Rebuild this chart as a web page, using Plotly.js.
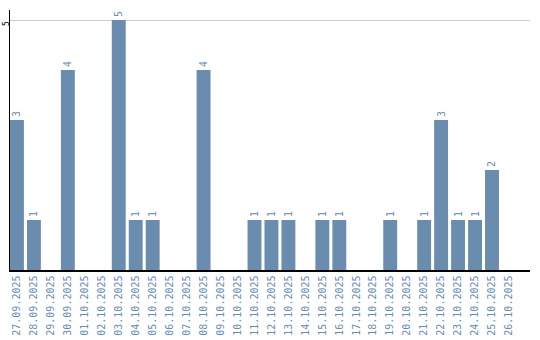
<!DOCTYPE html>
<html><head><meta charset="utf-8">
<script src="https://cdn.plot.ly/plotly-3.0.1.min.js"></script>
<style>html,body{margin:0;padding:0;background:#fff}#chart{width:540px;height:340px}</style>
</head><body><div id="chart"></div>
<script>
const dates = ["27.09.2025","28.09.2025","29.09.2025","30.09.2025","01.10.2025","02.10.2025","03.10.2025","04.10.2025","05.10.2025","06.10.2025","07.10.2025","08.10.2025","09.10.2025","10.10.2025","11.10.2025","12.10.2025","13.10.2025","14.10.2025","15.10.2025","16.10.2025","17.10.2025","18.10.2025","19.10.2025","20.10.2025","21.10.2025","22.10.2025","23.10.2025","24.10.2025","25.10.2025","26.10.2025"];
const counts = [3,1,0,4,0,0,5,1,1,0,0,4,0,0,1,1,1,0,1,1,0,0,1,0,1,3,1,1,2,0];
const yTicks = [5];

const labels = counts.map(v => v > 0 ? String(v) : "");

Plotly.newPlot("chart", [{
  type: "bar",
  x: dates,
  y: counts,
  width: 0.82,
  marker: {color: "#6a8caf"},
  text: labels,
  textposition: "outside",
  textangle: -90,
  cliponaxis: false,
  textfont: {family: "DejaVu Sans Mono", size: 10, color: "#6a8caf"},
  hoverinfo: "none"
}], {
  width: 540, height: 340,
  margin: {l: 10, r: 10, t: 10, b: 70},
  paper_bgcolor: "#fff", plot_bgcolor: "#fff",
  showlegend: false,
  bargap: 0.18,
  xaxis: {
    type: "category",
    range: [-0.41, 30.24],
    tickangle: -90,
    tickfont: {family: "DejaVu Sans Mono", size: 10, color: "#6a8caf"},
    showline: true, linecolor: "#000", linewidth: 1.5,
    showgrid: false, ticks: "", zeroline: false
  },
  yaxis: {
    range: [0, 5.2],
    tickvals: yTicks,
    ticktext: yTicks.map(v => v + "\u00a0\u00a0"),
    tickangle: -90,
    ticklabelstandoff: -4,
    tickfont: {family: "DejaVu Sans Mono", size: 8, color: "#000"},
    showline: true, linecolor: "#000", linewidth: 1.5,
    showgrid: true, gridcolor: "#cccccc", gridwidth: 1,
    zeroline: false, ticks: "", ticklen: 0
  }
}, {displayModeBar: false, staticPlot: true});
</script></body></html>
